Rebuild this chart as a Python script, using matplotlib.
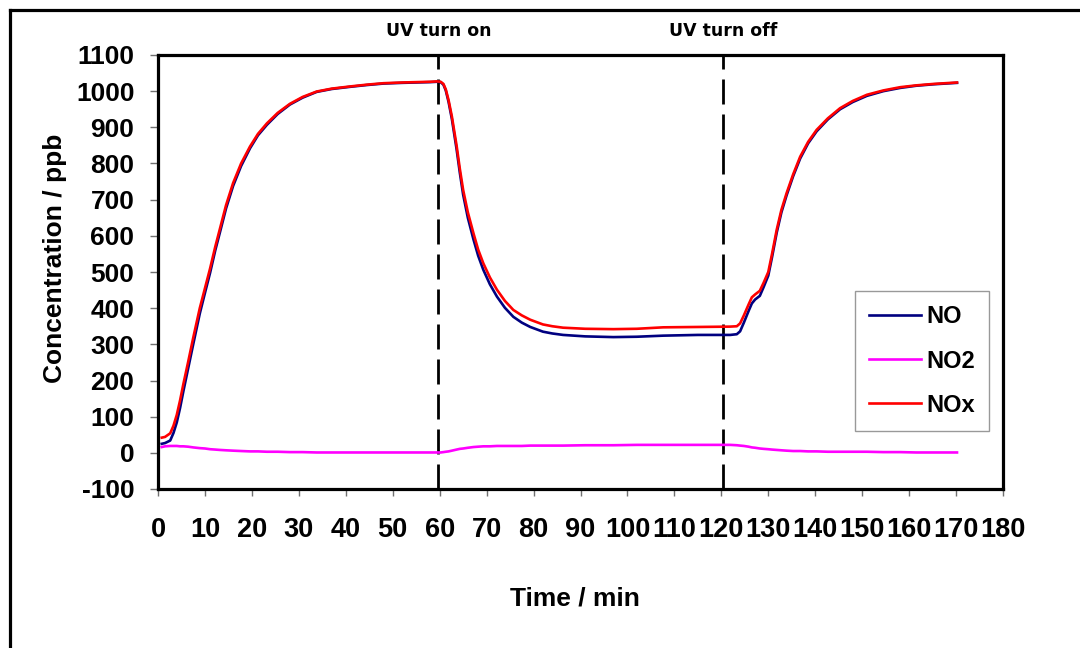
import numpy as np
import matplotlib
matplotlib.use("Agg")
import matplotlib.pyplot as plt
from matplotlib.lines import Line2D

plt.rcParams['font.family'] = ['Liberation Sans', 'DejaVu Sans']
plt.rcParams['axes.unicode_minus'] = False

# time in minutes
time_min = [0.8, 1.5, 2.6, 3.3, 4.0, 4.7, 5.4, 6.4, 7.5, 8.9, 10.0, 11.1, 12.2, 13.2,
            14.5, 16.0, 17.7, 19.6, 21.3, 23.2, 25.5, 28.1, 30.8, 33.8, 37.0, 40.9,
            44.5, 48.0, 52.0, 55.0, 58.0, 59.4, 60.2, 60.8, 61.3, 61.9, 62.6, 63.6,
            64.3, 65.0, 66.0, 67.2, 68.2, 69.3, 70.7, 72.2, 73.9, 75.7, 77.5, 79.3,
            82.0, 84.0, 86.3, 91.0, 97.0, 102.0, 107.6, 115.0, 121.9, 123.3, 124.0,
            124.8, 125.8, 126.5, 127.2, 128.2, 129.0, 130.0, 130.8, 131.8, 132.8,
            133.9, 135.3, 136.8, 138.5, 140.3, 142.7, 145.3, 148.0, 151.0, 154.5,
            158.1, 161.5, 165.2, 170.2]

nox_ppb = [42, 44, 54, 75, 105, 145, 190, 250, 318, 400, 455, 510, 570, 620,
           685, 746, 800, 847, 882, 911, 940, 965, 984, 999, 1007, 1013,
           1018, 1022, 1024, 1025, 1026, 1027, 1026, 1020, 1005, 975, 930, 850,
           785, 727, 665, 607, 562, 524, 485, 451, 420, 395, 380, 368,
           355, 350, 346, 343, 342, 343, 347, 348, 349, 350, 358,
           380, 410, 430, 438, 448, 470, 500, 550, 617, 672,
           718, 770, 819, 860, 893, 925, 953, 973, 990, 1002,
           1011, 1016, 1020, 1024]

no_ppb = [25, 27, 34, 55, 84, 124, 170, 232, 300, 385, 442, 498, 560, 610,
          676, 738, 793, 842, 878, 907, 937, 963, 982, 998, 1006, 1012,
          1017, 1021, 1023, 1024, 1025, 1026, 1025, 1018, 1002, 970, 923, 840,
          774, 714, 650, 590, 545, 506, 466, 432, 401, 376, 360, 348,
          335, 330, 326, 322, 320, 321, 324, 326, 326, 328, 336,
          360, 392, 413, 424, 434, 458, 490, 541, 609, 665,
          712, 765, 814, 856, 889, 922, 950, 970, 987, 1000,
          1009, 1015, 1019, 1023]

no2_ppb = [16, 18, 19, 19, 19, 18, 18, 17, 15, 13, 12, 10, 9, 8,
           7, 6, 5, 4, 4, 3, 3, 2, 2, 1, 1, 1,
           1, 1, 1, 1, 1, 1, 1, 2, 3, 4, 6, 9,
           11, 12, 14, 16, 17, 18, 18, 19, 19, 19, 19, 20,
           20, 20, 20, 21, 21, 22, 22, 22, 22, 21, 20,
           19, 17, 15, 14, 12, 11, 10, 9, 8, 7,
           6, 5, 5, 4, 4, 3, 3, 3, 3, 2,
           2, 1, 1, 1]

uv_on = 59.7
uv_off = 120.3

fig = plt.figure(figsize=(10.8, 6.48), dpi=100)
ax = fig.add_axes([158/1080, 1-489/648, 845/1080, 434/648])

ax.plot(time_min, no_ppb, color='#000080', lw=1.9, label='NO')
ax.plot(time_min, no2_ppb, color='#FF00FF', lw=1.9, label='NO2')
ax.plot(time_min, nox_ppb, color='#FF0000', lw=1.9, label='NOx')

for xv in (uv_on, uv_off):
    ax.axvline(xv, color='black', lw=2.0, dashes=(9, 3.6), zorder=1)

ax.text(uv_on, 1.035, 'UV turn on', transform=ax.get_xaxis_transform(),
        ha='center', va='bottom', fontsize=12.5, fontweight='bold', family='DejaVu Sans')
ax.text(uv_off, 1.035, 'UV turn off', transform=ax.get_xaxis_transform(),
        ha='center', va='bottom', fontsize=12.5, fontweight='bold', family='DejaVu Sans')

ax.set_xlim(0, 180)
ax.set_ylim(-100, 1100)
ax.set_xticks(np.arange(0, 181, 10))
ax.set_yticks(np.arange(-100, 1101, 100))
ax.tick_params(axis='x', direction='out', length=5, width=1, color='#707070',
               pad=15, labelsize=19.5)
ax.tick_params(axis='y', direction='out', length=6, width=1, color='#707070',
               pad=11, labelsize=19)
for lab in ax.get_xticklabels() + ax.get_yticklabels():
    lab.set_fontweight('bold')

for sp in ax.spines.values():
    sp.set_linewidth(2.3)
    sp.set_color('black')

fig.text(575/1080, 1-598/648, 'Time / min', ha='center', va='center',
         fontsize=19, fontweight='bold')
fig.text(55/1080, 1-258/648, 'Concentration / ppb', ha='center', va='center',
         rotation=90, fontsize=19, fontweight='bold')

leg = ax.legend(loc='upper left', bbox_to_anchor=(0.825, 0.456),
                prop={'weight': 'bold', 'size': 17}, frameon=True, fancybox=False,
                handlelength=2.2, handletextpad=0.22, labelspacing=0.9,
                borderpad=0.6, borderaxespad=0)
leg.get_frame().set_edgecolor('#808080')
leg.get_frame().set_linewidth(1.0)

# outer frame (top and left edges visible)
fig.add_artist(Line2D([10/1080, 1], [1-10/648, 1-10/648], color='black', lw=2.3,
                      transform=fig.transFigure))
fig.add_artist(Line2D([10/1080, 10/1080], [0, 1-10/648], color='black', lw=2.3,
                      transform=fig.transFigure))

fig.savefig('out.png', dpi=100)
